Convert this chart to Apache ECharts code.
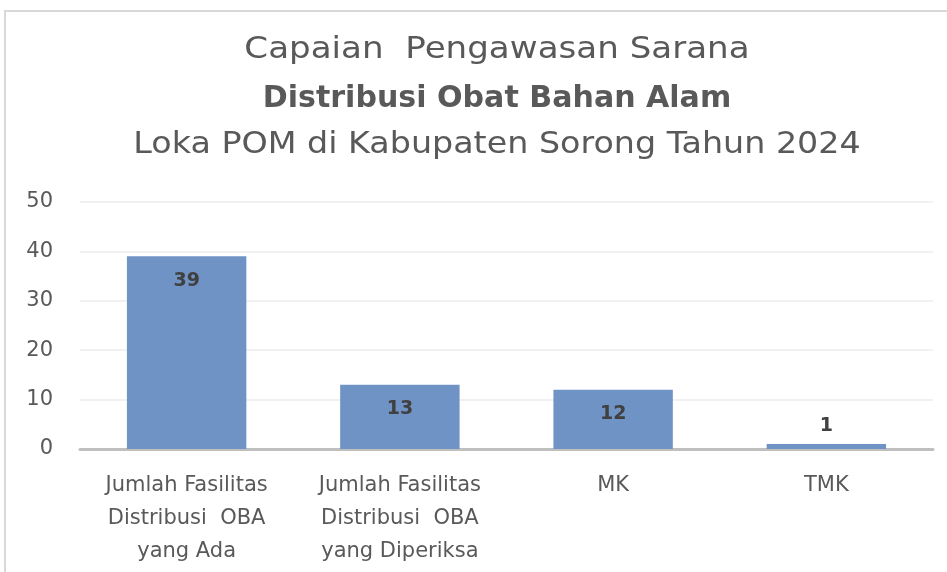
<!DOCTYPE html>
<html>
<head>
<meta charset="utf-8">
<script src="https://cdn.jsdelivr.net/npm/echarts@6/dist/echarts.min.js"></script>
<style>
  html, body { margin: 0; padding: 0; background: #fff; }
  #chart { width: 947px; height: 572px; }
</style>
</head>
<body>
<div id="chart"></div>
<script>
const categories = [
  'Jumlah Fasilitas\nDistribusi  OBA\nyang Ada',
  'Jumlah Fasilitas\nDistribusi  OBA\nyang Diperiksa',
  'MK',
  'TMK'
]
const values = [39, 13, 12, 1]
const yTicks = { min: 0, max: 50, interval: 10 }

const font = '"DejaVu Sans", "Noto Sans", sans-serif'
const chart = echarts.init(document.getElementById('chart'))

const seriesData = values.map(function (v) {
  // tiny bar cannot hold its label, put it above
  if (v < 5) {
    return { value: v, label: { position: 'top', distance: 8 } }
  }
  return v
})

function titleLine(text, y, weight, sx) {
  return {
    type: 'text',
    x: 497,
    y: y,
    scaleX: sx,
    style: {
      x: 0,
      y: 0,
      text: text,
      textAlign: 'center',
      textVerticalAlign: 'middle',
      font: weight + ' 31px ' + font,
      fill: '#595959'
    }
  }
}

const option = {
  backgroundColor: '#fff',
  animation: false,
  graphic: [
    {
      type: 'rect',
      shape: { x: 5, y: 11, width: 1000, height: 700 },
      style: { fill: 'none', stroke: '#d9d9d9', lineWidth: 2 }
    },
    titleLine('Capaian  Pengawasan Sarana', 50, 'normal', 1.1),
    titleLine('Distribusi Obat Bahan Alam', 99, 'bold', 0.97),
    titleLine('Loka POM di Kabupaten Sorong Tahun 2024', 145, 'normal', 1.075)
  ],
  grid: {
    left: 80,
    right: 14,
    top: 202,
    bottom: 123,
    containLabel: false
  },
  xAxis: {
    type: 'category',
    data: categories,
    axisLine: { lineStyle: { color: '#bfbfbf', width: 3 } },
    axisTick: { show: false },
    axisLabel: {
      color: '#595959',
      fontFamily: font,
      fontSize: 21,
      lineHeight: 33,
      margin: 20,
      interval: 0
    }
  },
  yAxis: {
    type: 'value',
    min: yTicks.min,
    max: yTicks.max,
    interval: yTicks.interval,
    axisLine: { show: false },
    axisTick: { show: false },
    axisLabel: {
      color: '#595959',
      fontFamily: font,
      fontSize: 21,
      margin: 27
    },
    splitLine: { lineStyle: { color: '#ececec', width: 1.5 } }
  },
  series: [
    {
      type: 'bar',
      data: seriesData,
      barWidth: '56%',
      itemStyle: { color: '#7093c5' },
      label: {
        show: true,
        position: 'insideTop',
        distance: 15,
        color: '#404040',
        fontFamily: font,
        fontWeight: 'bold',
        fontSize: 19
      }
    }
  ]
}

chart.setOption(option)
</script>
</body>
</html>
